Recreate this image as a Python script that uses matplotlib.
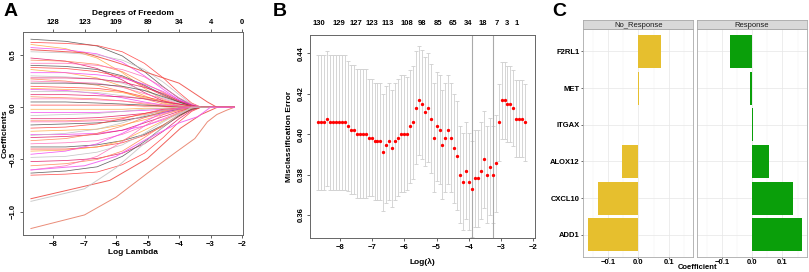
import matplotlib
matplotlib.use("Agg")
import matplotlib.pyplot as plt

plt.rcParams["font.family"] = ["Liberation Sans", "DejaVu Sans"]
plt.rcParams["font.weight"] = "bold"
plt.rcParams["axes.labelweight"] = "bold"

# ---- panel A: lasso coefficient paths (values at KNOT_X) ----
KNOT_X = [-8.7, -7.6, -6.6, -5.8, -5.1, -4.5, -4.0, -3.6, -3.3]
LOG_LAMBDA_END = -2.24
PATHS_A = [
    [0.65, 0.63, 0.585, 0.49, 0.34, 0.195, 0.085, 0.02, 0],
    [0.62, 0.61, 0.59, 0.53, 0.42, 0.28, 0.14, 0.04, 0],
    [0.60, 0.56, 0.47, 0.33, 0.18, 0.07, 0.02, 0, 0],
    [0.57, 0.55, 0.51, 0.43, 0.30, 0.17, 0.07, 0.02, 0],
    [0.53, 0.52, 0.50, 0.45, 0.36, 0.24, 0.12, 0.03, 0],
    [0.47, 0.44, 0.37, 0.26, 0.14, 0.06, 0.01, 0, 0],
    [0.45, 0.44, 0.41, 0.34, 0.23, 0.14, 0.06, 0.01, 0],
    [0.42, 0.42, 0.40, 0.36, 0.29, 0.19, 0.09, 0.03, 0],
    [0.40, 0.39, 0.36, 0.30, 0.21, 0.12, 0.05, 0.01, 0],
    [0.38, 0.37, 0.34, 0.29, 0.20, 0.11, 0.05, 0.01, 0],
    [0.36, 0.33, 0.28, 0.20, 0.11, 0.04, 0.01, 0, 0],
    [0.33, 0.33, 0.31, 0.28, 0.22, 0.15, 0.07, 0.02, 0],
    [0.30, 0.29, 0.27, 0.23, 0.16, 0.09, 0.04, 0.01, 0],
    [0.28, 0.28, 0.27, 0.24, 0.19, 0.13, 0.06, 0.02, 0],
    [0.27, 0.25, 0.21, 0.15, 0.08, 0.03, 0.01, 0, 0],
    [0.25, 0.24, 0.23, 0.19, 0.13, 0.08, 0.03, 0.01, 0],
    [0.23, 0.23, 0.22, 0.20, 0.16, 0.10, 0.05, 0.01, 0],
    [0.20, 0.19, 0.18, 0.15, 0.10, 0.06, 0.03, 0.01, 0],
    [0.18, 0.17, 0.16, 0.14, 0.09, 0.05, 0.02, 0.01, 0],
    [0.17, 0.16, 0.13, 0.09, 0.05, 0.02, 0.01, 0, 0],
    [0.15, 0.15, 0.14, 0.11, 0.08, 0.05, 0.02, 0, 0],
    [0.12, 0.12, 0.11, 0.10, 0.08, 0.05, 0.03, 0.01, 0],
    [0.10, 0.09, 0.08, 0.06, 0.03, 0.01, 0, 0, 0],
    [0.08, 0.08, 0.07, 0.06, 0.04, 0.02, 0.01, 0, 0],
    [0.05, 0.05, 0.04, 0.03, 0.02, 0.01, 0, 0, 0],
    [0.02, 0.02, 0.02, 0.02, 0.01, 0.01, 0, 0, 0],
    [-0.02, -0.02, -0.02, -0.02, -0.01, -0.01, 0, 0, 0],
    [-0.05, -0.05, -0.05, -0.04, -0.03, -0.02, -0.01, 0, 0],
    [-0.08, -0.07, -0.06, -0.04, -0.02, -0.01, 0, 0, 0],
    [-0.11, -0.11, -0.10, -0.08, -0.06, -0.03, -0.01, 0, 0],
    [-0.13, -0.13, -0.12, -0.10, -0.07, -0.04, -0.02, 0, 0],
    [-0.14, -0.14, -0.13, -0.12, -0.10, -0.06, -0.03, -0.01, 0],
    [-0.17, -0.16, -0.15, -0.13, -0.09, -0.05, -0.02, -0.01, 0],
    [-0.20, -0.19, -0.16, -0.11, -0.06, -0.02, -0.01, 0, 0],
    [-0.23, -0.22, -0.21, -0.17, -0.12, -0.07, -0.03, -0.01, 0],
    [-0.26, -0.26, -0.25, -0.22, -0.18, -0.12, -0.06, -0.02, 0],
    [-0.27, -0.25, -0.21, -0.15, -0.08, -0.03, -0.01, 0, 0],
    [-0.29, -0.28, -0.26, -0.22, -0.15, -0.09, -0.04, -0.01, 0],
    [-0.32, -0.30, -0.25, -0.18, -0.10, -0.04, -0.01, 0, 0],
    [-0.35, -0.34, -0.32, -0.26, -0.18, -0.11, -0.05, -0.01, 0],
    [-0.38, -0.38, -0.36, -0.32, -0.26, -0.17, -0.08, -0.02, 0],
    [-0.40, -0.40, -0.38, -0.34, -0.27, -0.18, -0.09, -0.02, 0],
    [-0.42, -0.41, -0.38, -0.32, -0.22, -0.13, -0.05, -0.01, 0],
    [-0.45, -0.42, -0.35, -0.25, -0.14, -0.05, -0.01, 0, 0],
    [-0.48, -0.47, -0.43, -0.36, -0.25, -0.14, -0.06, -0.01, 0],
    [-0.52, -0.51, -0.49, -0.44, -0.35, -0.23, -0.11, -0.03, 0],
    [-0.56, -0.54, -0.50, -0.42, -0.29, -0.17, -0.07, -0.02, 0],
    [-0.60, -0.56, -0.47, -0.33, -0.18, -0.07, -0.02, 0, 0],
    [-0.63, -0.61, -0.57, -0.47, -0.33, -0.19, -0.08, -0.02, 0],
    [-0.65, -0.64, -0.62, -0.55, -0.44, -0.29, -0.14, -0.04, 0],
]
PATH_COLORS = ["#4D4D4D", "#FF3B3B", "#FFA640", "#F03CF0", "#BDBDBD",
               "#E0115F", "#FF7F50", "#FF69B4"]

# paths that survive to larger lambda
SPECIAL_X = [
    [-8.7, -7.0, -6.0, -5.0, -4.1, -3.5, -3.1, -2.8, -2.5, -2.24],
    [-8.7, -6.2, -5.0, -3.95, -3.3, -2.78],
    [-8.7, -7.0, -6.0, -5.0, -4.4, -4.0, -3.6],
    [-8.7, -7.0, -6.0, -5.0, -4.0, -3.5, -3.1, -2.8],
    [-8.7, -7.0, -6.0, -5.0, -4.0, -3.4, -3.0],
]
SPECIAL_Y = [
    [-1.16, -1.03, -0.86, -0.63, -0.43, -0.30, -0.14, -0.07, -0.03, 0.0],
    [-0.875, -0.70, -0.49, -0.20, -0.07, 0.0],
    [-0.90, -0.78, -0.58, -0.32, -0.16, -0.07, 0.0],
    [0.55, 0.52, 0.43, 0.33, 0.23, 0.13, 0.05, 0.0],
    [-0.60, -0.56, -0.47, -0.30, -0.15, -0.09, 0.0],
]
SPECIAL_COLORS = ["#E8806A", "#F0504A", "#C8C8C8", "#F0504A", "#F060F0"]

DF_TICKS_A = [-8, -7, -6, -5, -4, -3, -2]
DF_LABELS_A = ["128", "123", "109", "89", "34", "4", "0"]

# ---- panel B: cross-validated misclassification error ----
LOG_LAMBDA_B = [
    -8.670, -8.578, -8.486, -8.395, -8.303, -8.211, -8.119, -8.027, -7.936, -7.844,
    -7.752, -7.660, -7.568, -7.477, -7.385, -7.293, -7.201, -7.109, -7.018, -6.926,
    -6.834, -6.742, -6.650, -6.559, -6.467, -6.375, -6.283, -6.191, -6.100, -6.008,
    -5.916, -5.824, -5.732, -5.641, -5.549, -5.457, -5.365, -5.273, -5.182, -5.090,
    -4.998, -4.906, -4.814, -4.723, -4.631, -4.539, -4.447, -4.355, -4.264, -4.172,
    -4.080, -3.988, -3.896, -3.805, -3.713, -3.621, -3.529, -3.437, -3.346, -3.254,
    -3.162, -3.070, -2.978, -2.887, -2.795, -2.703, -2.611, -2.519, -2.428, -2.336,
    -2.244,
]
CV_ERROR = [
    0.4058, 0.4058, 0.4058, 0.4076, 0.4058, 0.4058, 0.4058, 0.4058, 0.4058, 0.4058,
    0.4040, 0.4021, 0.4021, 0.4002, 0.4002, 0.4002, 0.4002, 0.3983, 0.3983, 0.3965,
    0.3965, 0.3965, 0.3911, 0.3947, 0.3965, 0.3929, 0.3965, 0.3983, 0.4002, 0.4002,
    0.4002, 0.4040, 0.4058, 0.4130, 0.4167, 0.4149, 0.4112, 0.4130, 0.4076, 0.3983,
    0.4040, 0.4021, 0.3947, 0.3983, 0.4021, 0.3983, 0.3929, 0.3893, 0.3800, 0.3764,
    0.3818, 0.3764, 0.3728, 0.3782, 0.3782, 0.3818, 0.3875, 0.3800, 0.3838, 0.3800,
    0.3856, 0.4058, 0.4167, 0.4167, 0.4149, 0.4149, 0.4130, 0.4076, 0.4076, 0.4076,
    0.4058,
]
CV_SE = [
    0.0335, 0.0335, 0.0335, 0.0335, 0.0335, 0.0335, 0.0335, 0.0335, 0.0335, 0.0335,
    0.032, 0.032, 0.032, 0.032, 0.032, 0.032, 0.032, 0.029, 0.029, 0.029,
    0.029, 0.029, 0.029, 0.029, 0.029, 0.029, 0.029, 0.029, 0.029, 0.029,
    0.028, 0.028, 0.028, 0.028, 0.027, 0.027, 0.027, 0.027, 0.027, 0.027,
    0.027, 0.027, 0.027, 0.027, 0.027, 0.027, 0.027, 0.027, 0.024, 0.024,
    0.024, 0.024, 0.024, 0.024, 0.024, 0.024, 0.024, 0.024, 0.024, 0.024,
    0.024, 0.019, 0.019, 0.019, 0.019, 0.019, 0.019, 0.019, 0.019, 0.019,
    0.019,
]
LAMBDA_MIN = -3.896
LAMBDA_1SE = -3.254
DF_POS_B = [-8.64, -8.02, -7.50, -7.02, -6.50, -5.93, -5.46, -4.95, -4.48,
            -4.02, -3.55, -3.13, -2.82, -2.51]
DF_LABELS_B = ["130", "129", "127", "123", "113", "108", "98", "85", "65",
               "34", "18", "7", "3", "1"]

# ---- panel C: coefficients per class ----
GENES = ["F2RL1", "MET", "ITGAX", "ALOX12", "CXCL10", "ADD1"]
COEF_NO_RESPONSE = [0.074, 0.003, -0.002, -0.055, -0.134, -0.166]
COEF_RESPONSE = [-0.074, -0.007, 0.002, 0.055, 0.134, 0.166]
CLASS_NAMES = ["No_Response", "Response"]
CLASS_COLORS = ["#E6BF2E", "#0A9F0A"]

FS = 5.5
fig = plt.figure(figsize=(8.09, 2.72), dpi=100)


def r_style(ax):
    for sp in ax.spines.values():
        sp.set_color("#666666")
        sp.set_linewidth(0.7)
    ax.tick_params(length=2.5, width=0.6, color="#444444", labelsize=FS, pad=1.5)


# A
axA = fig.add_axes([0.0281, 0.136, 0.2719, 0.7475])
for i, ys in enumerate(PATHS_A):
    axA.plot(KNOT_X + [LOG_LAMBDA_END], ys + [0.0], color=PATH_COLORS[i % len(PATH_COLORS)],
             lw=0.55, alpha=0.85)
for xs, ys, c in zip(SPECIAL_X, SPECIAL_Y, SPECIAL_COLORS):
    axA.plot(xs + [LOG_LAMBDA_END], ys + [0.0], color=c, lw=0.7, alpha=0.9)
axA.set_xlim(-8.96, -1.98)
axA.set_ylim(-1.222, 0.722)
axA.set_xticks([-8, -7, -6, -5, -4, -3, -2])
axA.set_xticklabels(["\u22128", "\u22127", "\u22126", "\u22125", "\u22124", "\u22123", "\u22122"])
axA.set_yticks([-1.0, -0.5, 0.0, 0.5])
axA.set_yticklabels(["\u22121.0", "\u22120.5", "0.0", "0.5"], rotation=90, va="center")
axA.set_xlabel("Log Lambda", fontsize=FS + 0.5, labelpad=1)
axA.set_ylabel("Coefficients", fontsize=FS + 0.5, labelpad=1)
r_style(axA)
topA = axA.secondary_xaxis("top")
topA.set_xticks(DF_TICKS_A)
topA.set_xticklabels(DF_LABELS_A)
topA.tick_params(length=2.5, width=0.6, color="#444444", labelsize=FS, pad=1.5)
topA.spines["top"].set_visible(False)
topA.set_xlabel("Degrees of Freedom", fontsize=FS + 0.5, labelpad=3)

# B
axB = fig.add_axes([0.3832, 0.1239, 0.2781, 0.7474])
axB.errorbar(LOG_LAMBDA_B, CV_ERROR, yerr=CV_SE, fmt="none", ecolor="#CFCFCF",
             elinewidth=0.6, capsize=1.3, capthick=0.6, zorder=1)
axB.axvline(LAMBDA_MIN, color="#AAAAAA", lw=0.8, zorder=2)
axB.axvline(LAMBDA_1SE, color="#AAAAAA", lw=0.8, zorder=2)
axB.plot(LOG_LAMBDA_B, CV_ERROR, "o", color="red", ms=2.4, mec="none", zorder=3)
axB.set_xlim(-8.93, -1.94)
axB.set_ylim(0.3484, 0.4491)
axB.set_xticks([-8, -7, -6, -5, -4, -3, -2])
axB.set_xticklabels(["\u22128", "\u22127", "\u22126", "\u22125", "\u22124", "\u22123", "\u22122"])
axB.set_yticks([0.36, 0.38, 0.40, 0.42, 0.44])
axB.set_yticklabels(["0.36", "0.38", "0.40", "0.42", "0.44"], rotation=90, va="center")
axB.set_xlabel("Log(\u03bb)", fontsize=FS + 0.5, labelpad=5)
axB.set_ylabel("Misclassification Error", fontsize=FS + 0.5, labelpad=3)
r_style(axB)
topB = axB.secondary_xaxis("top")
topB.set_xticks(DF_POS_B)
topB.set_xticklabels(DF_LABELS_B)
topB.tick_params(length=0, labelsize=FS, pad=6)
topB.spines["top"].set_visible(False)

# C
panel_boxes = [[0.721, 0.0563, 0.136, 0.8357], [0.8612, 0.0563, 0.1367, 0.8357]]
ypos = list(range(len(GENES)))[::-1]
for k, (box, vals) in enumerate(zip(panel_boxes, [COEF_NO_RESPONSE, COEF_RESPONSE])):
    ax = fig.add_axes(box)
    ax.set_axisbelow(True)
    ax.barh(ypos, vals, height=0.9, color=CLASS_COLORS[k])
    ax.set_xlim(-0.183, 0.182)
    ax.set_ylim(-0.6, len(GENES) - 0.4)
    ax.set_xticks([-0.1, 0.0, 0.1])
    ax.set_xticklabels(["\u22120.1", "0.0", "0.1"])
    ax.set_xticks([-0.15, -0.05, 0.05, 0.15], minor=True)
    ax.set_yticks(ypos)
    ax.set_yticklabels(GENES if k == 0 else [])
    ax.grid(True, which="major", color="#E6E6E6", lw=0.5)
    ax.grid(True, which="minor", axis="x", color="#F0F0F0", lw=0.3)
    for sp in ax.spines.values():
        sp.set_color("#AAAAAA")
        sp.set_linewidth(0.6)
    ax.tick_params(which="major", length=1.5, width=0.5, color="#333333", labelsize=FS, pad=1.0)
    ax.tick_params(axis="x", pad=0.5)
    ax.tick_params(which="minor", length=0)
    if k == 1:
        ax.tick_params(axis="y", length=0)
    # facet strip
    strip = fig.add_axes([box[0], 0.892, box[2], 0.0345])
    strip.set_facecolor("#D9D9D9")
    strip.set_xticks([])
    strip.set_yticks([])
    for sp in strip.spines.values():
        sp.set_color("#AAAAAA")
        sp.set_linewidth(0.6)
    strip.text(0.5, 0.45, CLASS_NAMES[k], ha="center", va="center", fontsize=FS,
               fontweight="normal", color="#1A1A1A", transform=strip.transAxes)

fig.text(0.862, 0.004, "Coefficient", ha="center", va="bottom", fontsize=FS)

fig.text(0.004, 0.99, "A", fontsize=14, fontweight="bold", va="top")
fig.text(0.3375, 0.99, "B", fontsize=14, fontweight="bold", va="top")
fig.text(0.683, 0.99, "C", fontsize=14, fontweight="bold", va="top")

fig.savefig("out.png", dpi=100)
